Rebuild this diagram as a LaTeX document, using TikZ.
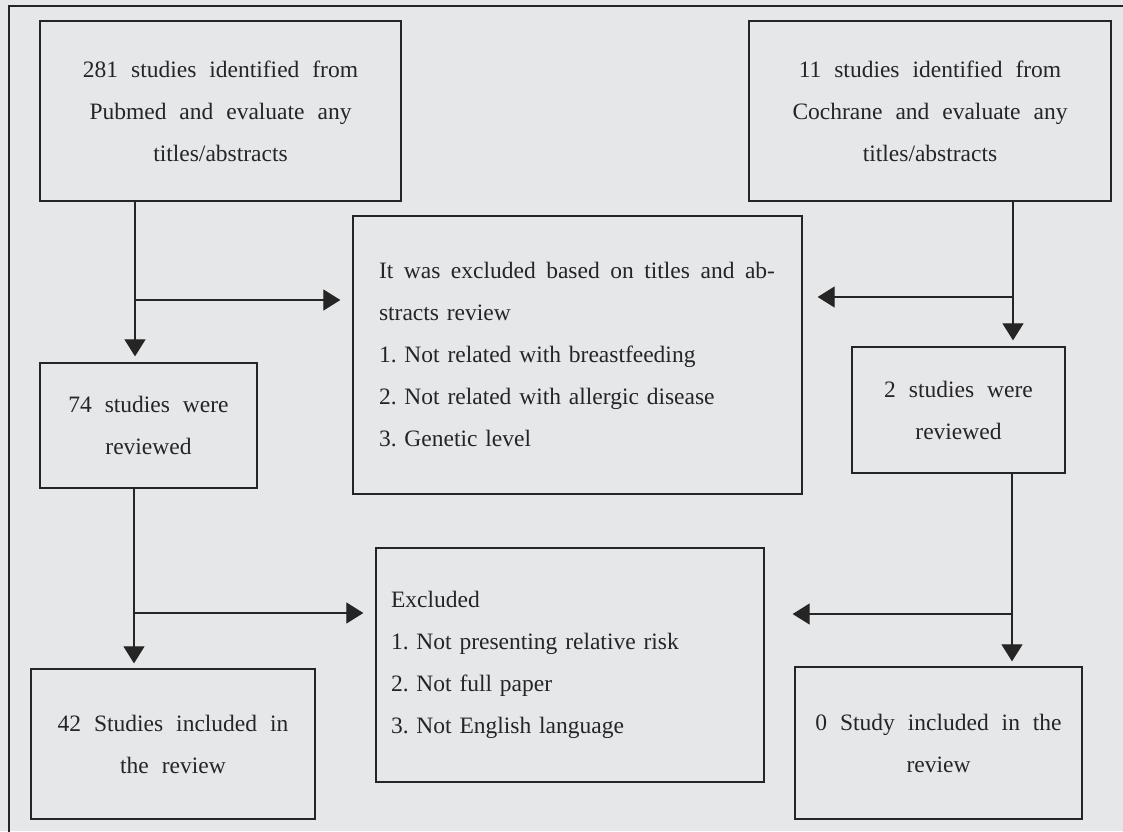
\documentclass[tikz,border=0pt]{standalone}
\usepackage{fontspec}
\setmainfont{Liberation Serif}
\usetikzlibrary{arrows.meta}
\definecolor{bggray}{HTML}{E6E7E9}
\definecolor{ink}{HTML}{262525}
\newcommand{\boxfont}{\fontsize{23.5}{42}\selectfont\frenchspacing\spaceskip=.55em plus .4em\relax}
\tikzset{
  flowbox/.style={draw=ink, line width=1.3pt, rectangle, inner sep=0pt, text=ink, font=\boxfont, align=center},
  listbox/.style={flowbox, align=left},
  arr/.style={draw=ink, line width=1.2pt, -{Triangle[length=17pt,width=21pt]}}
}
\begin{document}
\begin{tikzpicture}[x=1pt, y=-1pt]
    \useasboundingbox[fill=bggray] (0,0) rectangle (1123,831);
    \draw[ink, line width=1.3pt] (9,6) rectangle (1140,850);
    % sources
    \node[flowbox, minimum width=361pt, minimum height=180pt] (pubmed) at (220.5,111)
        {281 studies identified from\\Pubmed and evaluate any\\titles/abstracts};
    \node[flowbox, minimum width=362pt, minimum height=180pt] (cochrane) at (930,111)
        {11 studies identified from\\Cochrane and evaluate any\\titles/abstracts};
    % first screening
    \node[listbox, text width=397pt, minimum width=449pt, minimum height=278pt] (excl1) at (577.5,355)
        {\hbox to 396pt{It\hfill was\hfill excluded\hfill based\hfill on\hfill titles\hfill and\hfill ab-}\\stracts review\\1. Not related with breastfeeding\\2. Not related with allergic disease\\3. Genetic level};
    \node[flowbox, minimum width=217pt, minimum height=125pt] (rev1) at (148.5,425.5)
        {74 studies were\\reviewed};
    \node[flowbox, minimum width=213pt, minimum height=126pt] (rev2) at (958.5,410)
        {2 studies were\\reviewed};
    % second screening
    \node[listbox, text width=358pt, minimum width=388pt, minimum height=234pt] (excl2) at (570,665)
        {Excluded\\1. Not presenting relative risk\\2. Not full paper\\3. Not English language};
    \node[flowbox, minimum width=284pt, minimum height=150pt] (incl1) at (173,744)
        {42 Studies included in\\the review};
    \node[flowbox, minimum width=287pt, minimum height=152pt] (incl2) at (938.5,743)
        {0 Study included in the\\review};
    % spines and junctions
    \coordinate (lx) at (135,0);
    \coordinate (rx) at (1013,0);
    \coordinate (j1) at (135,300);
    \coordinate (j2) at (1013,297);
    \coordinate (j3) at (134,613);
    \coordinate (j4) at (1012,614);
    \draw[arr, shorten >=6pt] (pubmed.south -| lx) -- (rev1.north -| lx);
    \draw[arr, shorten >=12pt] (j1) -- (excl1.west |- j1);
    \draw[arr, shorten >=6pt] (cochrane.south -| rx) -- (rev2.north -| rx);
    \draw[arr, shorten >=15pt] (j2) -- (excl1.east |- j2);
    \draw[arr, shorten >=5pt] (rev1.south -| j3) -- (incl1.north -| j3);
    \draw[arr, shorten >=12pt] (j3) -- (excl2.west |- j3);
    \draw[arr, shorten >=5pt] (rev2.south -| j4) -- (incl2.north -| j4);
    \draw[arr, shorten >=28pt] (j4) -- (excl2.east |- j4);
\end{tikzpicture}
\end{document}
